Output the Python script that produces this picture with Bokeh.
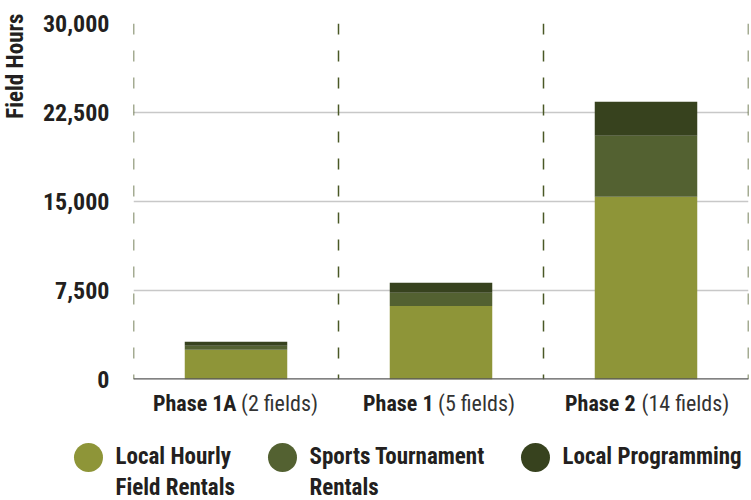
from math import pi

from bokeh.plotting import figure
from bokeh.models import (Range1d, FactorRange, FixedTicker, NumeralTickFormatter,
                          Span, ColumnDataSource)
from bokeh.layouts import column, row
from bokeh.embed import file_html
from bokeh.resources import INLINE
from bokeh.core.properties import value

# ---------------- data ----------------
phases = ["Phase 1A", "Phase 1", "Phase 2"]
phase_notes = ["(2 fields)", "(5 fields)", "(14 fields)"]
series = ["Local Hourly Field Rentals", "Sports Tournament Rentals", "Local Programming"]
legend_labels = ["Local Hourly\nField Rentals", "Sports Tournament\nRentals", "Local Programming"]
local_hourly = [2500, 6200, 15400]
sports_tournament = [340, 1100, 5150]
local_programming = [340, 850, 2850]
y_ticks = [0, 7500, 15000, 22500, 30000]
y_label = "Field Hours"

# ---------------- style ----------------
colors = ["#8e9538", "#536131", "#37421e"]
FONT = "'Liberation Sans Narrow', 'Roboto Condensed', 'DejaVu Sans Condensed', Roboto, sans-serif"
TEXT = "#231f20"
W = 751
YL_W = 30                      # strip holding the vertical axis title
LEFT, RIGHT = 133 - YL_W, 3
MAIN_H, CAT_H, LEG_H = 391, 37, 72
TOP, FRAME_H = 23, 356
label_bold_dx = [0.5, -7.5, -10.5]     # right edge of bold part, px from category centre
label_note_dx = [5, -3, -4.5]          # left edge of regular part
legend_x = [88, 282, 535]              # circle centres in legend strip (px)

# ---------------- y-axis title strip ----------------
yl = figure(width=YL_W, height=MAIN_H, x_range=Range1d(0, YL_W), y_range=Range1d(MAIN_H, 0),
            output_backend="svg", toolbar_location=None, min_border=0, frame_align=False)
yl.axis.visible = False
yl.grid.visible = False
yl.outline_line_color = None
yl.text(x=[15], y=[13], text=[y_label], angle=pi / 2, text_align="right",
        text_baseline="middle", text_font=value(FONT), text_font_style="bold",
        text_font_size="23px", text_color=TEXT)

# ---------------- main chart ----------------
p = figure(x_range=FactorRange(*phases), y_range=Range1d(0, y_ticks[-1]),
           width=W - YL_W, height=MAIN_H, output_backend="svg", toolbar_location=None,
           min_border_left=LEFT, min_border_right=RIGHT, min_border_top=TOP,
           min_border_bottom=MAIN_H - TOP - FRAME_H)
p.outline_line_color = None

src = ColumnDataSource(dict(phase=phases, hourly=local_hourly,
                            sports=sports_tournament, prog=local_programming))
p.vbar_stack(["hourly", "sports", "prog"], x="phase", width=0.5, color=colors,
             line_color=None, source=src)

p.xaxis.visible = False
p.xgrid.grid_line_color = None

ya = p.yaxis[0]
ya.ticker = FixedTicker(ticks=y_ticks)
ya.formatter = NumeralTickFormatter(format="0,0")
ya.axis_line_color = None
ya.major_tick_line_color = None
ya.minor_tick_line_color = None
ya.major_tick_in = 0
ya.major_tick_out = 0
ya.major_label_standoff = 24
ya.major_label_text_font = FONT
ya.major_label_text_font_style = "bold"
ya.major_label_text_font_size = "24px"
ya.major_label_text_line_height = 1.0
ya.major_label_text_color = TEXT

p.ygrid.ticker = FixedTicker(ticks=y_ticks)
p.ygrid.grid_line_color = "#c8c8c8"
p.ygrid.grid_line_width = 1.3

for i in range(len(phases) + 1):
    p.add_layout(Span(location=i, dimension="height", line_color="#4a5826",
                      line_width=1.5, line_dash="11 16"))
p.add_layout(Span(location=0, dimension="width", line_color="#585858", line_width=2.5))

# ---------------- category label strip (shares x range) ----------------
cl = figure(x_range=p.x_range, y_range=Range1d(CAT_H, 0), width=W - YL_W, height=CAT_H,
            output_backend="svg", toolbar_location=None,
            min_border_left=LEFT, min_border_right=RIGHT, min_border_top=0, min_border_bottom=0)
cl.axis.visible = False
cl.grid.visible = False
cl.outline_line_color = None
csrc = ColumnDataSource(dict(phase=phases, note=phase_notes, y=[403 - MAIN_H] * len(phases),
                             bdx=label_bold_dx, ndx=label_note_dx))
cl.text("phase", "y", text="phase", x_offset="bdx", source=csrc, text_align="right",
        text_baseline="middle", text_font=value(FONT), text_font_style="bold",
        text_font_size="22px", text_line_height=1.0, text_color=TEXT)
cl.text("phase", "y", text="note", x_offset="ndx", source=csrc, text_align="left",
        text_baseline="middle", text_font=value(FONT), text_font_style="normal",
        text_font_size="22px", text_line_height=1.0, text_color="#333333")

# ---------------- legend strip ----------------
lg = figure(width=W, height=LEG_H, x_range=Range1d(0, W), y_range=Range1d(LEG_H, 0),
            output_backend="svg", toolbar_location=None, min_border=0, frame_align=False)
lg.axis.visible = False
lg.grid.visible = False
lg.outline_line_color = None
lsrc = ColumnDataSource(dict(x=legend_x, tx=[v + 27 for v in legend_x],
                             y=[29] * len(series), ty=[14] * len(series),
                             color=colors, label=legend_labels))
lg.scatter("x", "y", size=29, color="color", line_color=None, source=lsrc)
lg.text("tx", "ty", text="label", source=lsrc, text_align="left", text_baseline="top",
        text_font=value(FONT), text_font_style="bold", text_font_size="23px",
        text_line_height=1.15, text_color=TEXT)

layout = column(row(yl, column(p, cl, spacing=0), spacing=0), lg, spacing=0)
open("out.html", "w").write(file_html(layout, INLINE))
